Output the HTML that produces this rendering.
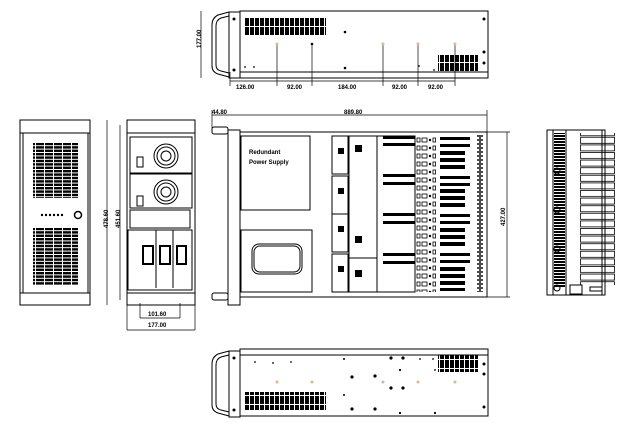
<!DOCTYPE html>
<html><head><meta charset="utf-8"><style>
html,body{margin:0;padding:0;background:#fff;width:635px;height:431px;overflow:hidden}
svg{display:block}
text{font-family:"Liberation Sans",sans-serif;font-weight:bold;font-size:6px;fill:#000}
</style></head><body>
<svg width="635" height="431" viewBox="0 0 635 431" xmlns="http://www.w3.org/2000/svg">
<defs>
<pattern id="vs" width="5" height="9" patternUnits="userSpaceOnUse"><rect x="0" y="0" width="4" height="8" fill="#000"/></pattern>
<pattern id="fv" width="9" height="3.4" patternUnits="userSpaceOnUse"><rect x="0" y="0" width="8" height="2.4" fill="#000"/></pattern>
<pattern id="rs" width="58" height="7.6" patternUnits="userSpaceOnUse"><rect x="0.5" y="0.5" width="34" height="6" fill="none" stroke="#000" stroke-width="0.8"/></pattern>
<pattern id="lv" width="12" height="3" patternUnits="userSpaceOnUse"><rect x="0" y="0" width="12" height="2" fill="#000"/></pattern>
<pattern id="cn" width="26" height="8" patternUnits="userSpaceOnUse"><rect x="1" y="2" width="3" height="4" fill="none" stroke="#000" stroke-width="0.8"/><rect x="6" y="2" width="5" height="4" fill="none" stroke="#000" stroke-width="0.8"/><circle cx="14" cy="4" r="1.2" fill="#000"/><rect x="17" y="2" width="2.5" height="4" fill="none" stroke="#000" stroke-width="0.8"/></pattern>
<pattern id="rail" width="5" height="4" patternUnits="userSpaceOnUse"><rect x="0.5" y="0.5" width="4" height="3" fill="none" stroke="#000" stroke-width="0.7"/></pattern>
</defs>
<g fill="none" stroke="#000" stroke-width="1">
<!-- TOP VIEW -->
<path d="M229 12 L218 15 Q212 18 212 25 L212 66 Q212 72 218 74 L229 77"/>
<path d="M229 16 L221 18 Q216 20 216 26 L216 65 Q216 70 221 71 L229 73"/>
<rect x="229" y="12" width="11" height="66"/>
<rect x="240" y="11" width="248" height="67"/>
<line x1="240" y1="72" x2="488" y2="72"/>
<rect x="245" y="17" width="81" height="18" fill="url(#vs)" stroke="none"/>
<rect x="438" y="55" width="40" height="17" fill="url(#vs)" stroke="none"/>
<line x1="201" y1="11" x2="201" y2="78" stroke-width="0.7"/>
<line x1="230" y1="81" x2="455" y2="81" stroke-width="0.8"/>
<line x1="230" y1="72" x2="230" y2="86" stroke-width="0.7"/>
<line x1="277" y1="44" x2="277" y2="86" stroke-width="0.7"/>
<line x1="312" y1="44" x2="312" y2="86" stroke-width="0.7"/>
<line x1="383" y1="44" x2="383" y2="86" stroke-width="0.7"/>
<line x1="418" y1="44" x2="418" y2="86" stroke-width="0.7"/>
<line x1="455" y1="44" x2="455" y2="86" stroke-width="0.7"/>
<!-- MAIN VIEW -->
<line x1="212" y1="115" x2="487" y2="115" stroke-width="0.7"/>
<line x1="212" y1="110" x2="212" y2="128" stroke-width="0.7"/>
<line x1="487" y1="110" x2="487" y2="132" stroke-width="0.7"/>
<rect x="212" y="127" width="16" height="7" rx="2"/>
<rect x="212" y="293" width="16" height="7" rx="2"/>
<rect x="228" y="130" width="12" height="175"/>
<rect x="240" y="132" width="247" height="165"/>
<rect x="241" y="136" width="69" height="74"/>
<rect x="241" y="230" width="71" height="62"/>
<rect x="252" y="244" width="50" height="30" rx="7"/>
<rect x="254" y="246" width="46" height="26" rx="6"/>
<rect x="332" y="136" width="16" height="38"/><rect x="332" y="176" width="16" height="38"/>
<rect x="332" y="214" width="16" height="38"/><rect x="332" y="254" width="16" height="38"/>
<rect x="349" y="136" width="28" height="122"/><rect x="349" y="258" width="28" height="34"/>
<rect x="377" y="136" width="38" height="156"/>
<rect x="415" y="135" width="25" height="157" fill="url(#cn)" stroke="none"/>
<rect x="477" y="135" width="6" height="157" fill="url(#rail)" stroke="none"/>
<line x1="507" y1="132" x2="507" y2="297" stroke-width="0.7"/>
<line x1="487" y1="297" x2="510" y2="297" stroke-width="0.7"/>
<line x1="487" y1="132" x2="510" y2="132" stroke-width="0.7"/>
<!-- LEFT FRONT -->
<rect x="20" y="120" width="70" height="185"/>
<line x1="20" y1="133" x2="90" y2="133"/><line x1="20" y1="293" x2="90" y2="293"/>
<rect x="23" y="133" width="65" height="160"/>
<rect x="33" y="143" width="45" height="55" fill="url(#fv)" stroke="none"/>
<rect x="33" y="228" width="45" height="57" fill="url(#fv)" stroke="none"/>
<circle cx="78" cy="215" r="3.5" stroke-width="1.5"/>
<!-- SECOND FRONT -->
<rect x="127" y="120" width="68" height="185"/>
<line x1="127" y1="133" x2="195" y2="133"/><line x1="127" y1="293" x2="195" y2="293"/>
<rect x="130" y="137" width="62" height="36"/><rect x="130" y="174" width="62" height="34"/>
<circle cx="166" cy="156" r="12"/><circle cx="166" cy="156" r="9"/><circle cx="166" cy="156" r="5"/>
<circle cx="166" cy="192" r="12"/><circle cx="166" cy="192" r="9"/><circle cx="166" cy="192" r="5"/>
<rect x="137" y="157" width="6" height="10"/><rect x="137" y="196" width="6" height="10"/>
<rect x="130" y="210" width="60" height="18"/>
<rect x="128" y="230" width="64" height="60"/>
<line x1="156" y1="230" x2="156" y2="288"/><line x1="173" y1="230" x2="173" y2="288"/>
<rect x="143" y="246" width="10" height="18" stroke-width="2"/><rect x="160" y="246" width="10" height="18" stroke-width="2"/><rect x="177" y="246" width="9" height="18" stroke-width="2"/>
<line x1="107" y1="120" x2="107" y2="305" stroke-width="0.7"/>
<line x1="120" y1="125" x2="120" y2="300" stroke-width="0.7"/>
<line x1="127" y1="305" x2="127" y2="330" stroke-width="0.7"/>
<line x1="195" y1="305" x2="195" y2="330" stroke-width="0.7"/>
<line x1="127" y1="330" x2="195" y2="330" stroke-width="0.7"/>
<line x1="140" y1="318" x2="180" y2="318" stroke-width="0.7"/>
<line x1="140" y1="303" x2="140" y2="318" stroke-width="0.7"/><line x1="180" y1="303" x2="180" y2="318" stroke-width="0.7"/>
<!-- RIGHT VIEW -->
<rect x="547" y="130" width="58" height="165"/>
<line x1="553" y1="130" x2="553" y2="295"/><line x1="566" y1="130" x2="566" y2="295"/><line x1="602" y1="130" x2="602" y2="295"/>
<rect x="554" y="133" width="11" height="155" fill="url(#lv)" stroke="none"/>
<rect x="568" y="133" width="58" height="152" fill="url(#rs)" stroke="none"/>
<circle cx="557" cy="171" r="3"/><circle cx="557" cy="210" r="3"/><circle cx="557" cy="249" r="3"/><circle cx="557" cy="288" r="3"/>
<rect x="570" y="285" width="12" height="9"/><rect x="590" y="287" width="12" height="4"/>
<!-- BOTTOM VIEW -->
<path d="M229 351 L218 354 Q212 357 212 364 L212 405 Q212 411 218 413 L229 416"/>
<path d="M229 355 L221 357 Q216 359 216 365 L216 404 Q216 409 221 410 L229 412"/>
<rect x="229" y="351" width="11" height="66"/>
<rect x="240" y="349" width="248" height="67"/>
<line x1="240" y1="355" x2="488" y2="355"/>
<rect x="245" y="392" width="81" height="18" fill="url(#vs)" stroke="none"/>
<rect x="438" y="355" width="40" height="17" fill="url(#vs)" stroke="none"/>
</g>
<g fill="#000">
<circle cx="484" cy="19" r="1.5"/><circle cx="484" cy="52" r="1.5"/><circle cx="484" cy="63" r="1.5"/><circle cx="345" cy="32" r="1.3"/><circle cx="345" cy="68" r="1.3"/><circle cx="312" cy="44" r="1.3"/>
<circle cx="245" cy="67" r="0.9"/><circle cx="254" cy="67" r="0.9"/><circle cx="419" cy="66" r="0.9"/><circle cx="434" cy="70" r="0.9"/>
<circle cx="234" cy="19" r="1.5"/><circle cx="234" cy="70" r="1.5"/>
<circle cx="234" cy="358" r="1.5"/><circle cx="234" cy="410" r="1.5"/>
<circle cx="484" cy="364" r="1.5"/><circle cx="484" cy="374" r="1.5"/><circle cx="484" cy="407" r="1.5"/><circle cx="391" cy="358" r="1.6"/><circle cx="403" cy="358" r="1.6"/><circle cx="400" cy="370" r="1.1"/><circle cx="352" cy="377" r="1.6"/><circle cx="375" cy="376" r="1.6"/><circle cx="391" cy="388" r="1.6"/><circle cx="403" cy="388" r="1.6"/><circle cx="352" cy="409" r="1.6"/><circle cx="375" cy="409" r="1.6"/><circle cx="400" cy="413" r="1.1"/><circle cx="435" cy="413" r="1.1"/>
<circle cx="255" cy="362" r="0.9"/><circle cx="273" cy="363" r="0.9"/><circle cx="291" cy="362" r="0.9"/><circle cx="344" cy="359" r="1"/><circle cx="344" cy="395" r="1"/><circle cx="420" cy="359" r="0.9"/><circle cx="433" cy="359" r="0.9"/><circle cx="435" cy="370" r="0.9"/>
<circle cx="42" cy="215" r="1.2"/><circle cx="46" cy="215" r="1.2"/><circle cx="50" cy="215" r="1.2"/><circle cx="54" cy="215" r="1.2"/><circle cx="58" cy="215" r="1.2"/><circle cx="62" cy="215" r="1.2"/>
<rect x="383" y="136" width="32" height="3"/><rect x="383" y="143" width="32" height="3"/><rect x="383" y="174" width="32" height="3"/><rect x="383" y="182" width="32" height="3"/><rect x="383" y="213" width="32" height="3"/><rect x="383" y="221" width="32" height="3"/><rect x="383" y="253" width="32" height="3"/><rect x="383" y="261" width="32" height="3"/>
<rect x="440" y="137" width="30" height="3"/><rect x="440" y="144" width="30" height="3"/><rect x="440" y="151" width="25" height="4"/><rect x="440" y="158" width="25" height="4"/><rect x="440" y="165" width="25" height="4"/><rect x="440" y="176" width="30" height="3"/><rect x="440" y="183" width="30" height="3"/><rect x="440" y="189" width="25" height="4"/><rect x="440" y="196" width="25" height="4"/><rect x="440" y="203" width="25" height="4"/><rect x="440" y="214" width="30" height="3"/><rect x="440" y="221" width="30" height="3"/><rect x="440" y="228" width="25" height="4"/><rect x="440" y="235" width="25" height="4"/><rect x="440" y="242" width="25" height="4"/><rect x="440" y="253" width="30" height="3"/><rect x="440" y="260" width="30" height="3"/><rect x="440" y="267" width="25" height="4"/><rect x="440" y="274" width="25" height="4"/><rect x="440" y="281" width="25" height="4"/><rect x="440" y="288" width="25" height="3"/>
<rect x="338" y="148" width="6" height="6"/><rect x="338" y="188" width="6" height="6"/><rect x="338" y="226" width="6" height="6"/><rect x="338" y="266" width="6" height="6"/>
<rect x="355" y="145" width="7" height="7"/><rect x="355" y="236" width="7" height="7"/><rect x="355" y="270" width="7" height="7"/>
</g>
<g fill="#e8b48a">
<circle cx="277" cy="44" r="1.5"/><circle cx="383" cy="44" r="1.5"/><circle cx="418" cy="44" r="1.5"/><circle cx="455" cy="44" r="1.5"/>
<circle cx="277" cy="382" r="1.5"/><circle cx="312" cy="382" r="1.5"/><circle cx="383" cy="382" r="1.5"/><circle cx="418" cy="382" r="1.5"/><circle cx="455" cy="382" r="1.5"/>
</g>
<text x="236" y="89">126.00</text><text x="287" y="89">92.00</text><text x="338" y="89">184.00</text><text x="392" y="89">92.00</text><text x="428" y="89">92.00</text>
<text transform="translate(201,48) rotate(-90)">177.00</text>
<text x="212" y="114">44.80</text><text x="344" y="114">889.80</text>
<text x="249" y="154">Redundant</text><text x="249" y="164">Power Supply</text>
<text transform="translate(505,226) rotate(-90)">427.00</text>
<text transform="translate(108,228) rotate(-90)">478.60</text>
<text transform="translate(120,228) rotate(-90)">451.60</text>
<text x="148" y="316">101.60</text><text x="148" y="327">177.00</text>
</svg>
</body></html>
